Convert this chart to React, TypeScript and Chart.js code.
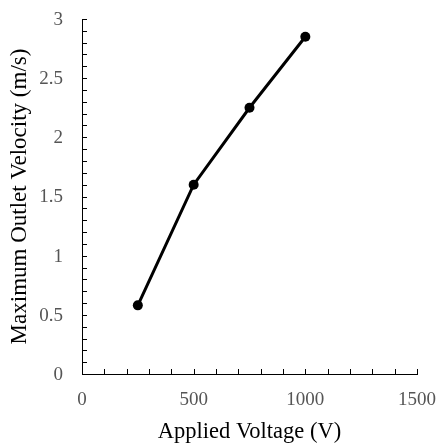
import React, { useEffect, useRef } from "react";
import { Chart, registerables } from "chart.js";

Chart.register(...registerables);

const voltages = [250, 500, 750, 1000];
const velocities = [0.58, 1.6, 2.25, 2.85];
const xTickLabels = ["0", "500", "1000", "1500"];
const yTickLabels = ["0", "0.5", "1", "1.5", "2", "2.5", "3"];
const xTitle = "Applied Voltage (V)";
const yTitle = "Maximum Outlet Velocity (m/s)";
const xMinorStep = 100;
const yMinorStep = 0.1;

const FONT = "'Liberation Serif', 'Times New Roman', serif";

const axisDecor = {
  id: "axisDecor",
  afterDraw(chart: any) {
    const ctx = chart.ctx;
    const xs = chart.scales.x;
    const ys = chart.scales.y;
    const area = chart.chartArea;
    const len = 5;
    ctx.save();
    // inward tick marks
    ctx.strokeStyle = "#000";
    ctx.lineWidth = 1;
    ctx.beginPath();
    const nx = Math.round((xs.max - xs.min) / xMinorStep);
    for (let i = 0; i <= nx; i++) {
      const v = xs.min + i * xMinorStep;
      const px = Math.round(xs.getPixelForValue(v)) + 0.5;
      ctx.moveTo(px, area.bottom);
      ctx.lineTo(px, area.bottom - len);
    }
    const ny = Math.round((ys.max - ys.min) / yMinorStep);
    for (let i = 0; i <= ny; i++) {
      const v = ys.min + i * yMinorStep;
      const py = Math.round(ys.getPixelForValue(v)) + 0.5;
      ctx.moveTo(area.left, py);
      ctx.lineTo(area.left + len, py);
    }
    ctx.stroke();

    // tick labels
    ctx.fillStyle = "#555555";
    ctx.font = `19px ${FONT}`;
    ctx.textBaseline = "middle";
    ctx.textAlign = "right";
    for (const lab of yTickLabels) {
      const py = ys.getPixelForValue(Number(lab));
      ctx.fillText(lab, area.left - 19, py + 1);
    }
    ctx.textAlign = "center";
    for (const lab of xTickLabels) {
      const px = xs.getPixelForValue(Number(lab));
      ctx.fillText(lab, px, area.bottom + 26);
    }

    // axis titles
    ctx.fillStyle = "#000";
    ctx.font = `22.5px ${FONT}`;
    ctx.textAlign = "center";
    ctx.fillText(xTitle, (area.left + area.right) / 2, area.bottom + 58);
    ctx.font = `23px ${FONT}`;
    ctx.translate(19.5, (area.top + area.bottom) / 2);
    ctx.rotate(-Math.PI / 2);
    ctx.fillText(yTitle, 0, 0);
    ctx.restore();
  },
};

export default function App() {
  const ref = useRef<HTMLCanvasElement | null>(null);
  useEffect(() => {
    if (!ref.current) return;
    const chart = new Chart(ref.current, {
      type: "scatter",
      data: {
        datasets: [
          {
            data: voltages.map((x, i) => ({ x, y: velocities[i] })),
            showLine: true,
            borderColor: "#000",
            backgroundColor: "#000",
            borderWidth: 3,
            pointRadius: 5,
            pointHoverRadius: 5,
            pointBorderWidth: 0,
            pointBackgroundColor: "#000",
            pointBorderColor: "#000",
          },
        ],
      },
      options: {
        responsive: false,
        animation: false,
        layout: { padding: { top: 19, right: 19, left: 0, bottom: 0 } },
        plugins: { legend: { display: false }, tooltip: { enabled: false } },
        scales: {
          x: {
            type: "linear",
            min: 0,
            max: 1500,
            afterFit: (s: any) => {
              s.height = 70;
            },
            grid: { drawOnChartArea: false, drawTicks: false },
            border: { display: true, color: "#000", width: 1 },
            ticks: { display: false, stepSize: 500 },
            title: { display: false },
          },
          y: {
            type: "linear",
            min: 0,
            max: 3,
            afterFit: (s: any) => {
              s.width = 82;
            },
            grid: { drawOnChartArea: false, drawTicks: false },
            border: { display: true, color: "#000", width: 1 },
            ticks: { display: false, stepSize: 0.5 },
            title: { display: false },
          },
        },
      },
      plugins: [axisDecor],
    } as any);
    return () => chart.destroy();
  }, []);
  return (
    <div style={{ position: "absolute", left: 0, top: 0, width: 436, height: 444, background: "#fff" }}>
      <canvas ref={ref} width={436} height={444} style={{ display: "block" }} />
    </div>
  );
}
